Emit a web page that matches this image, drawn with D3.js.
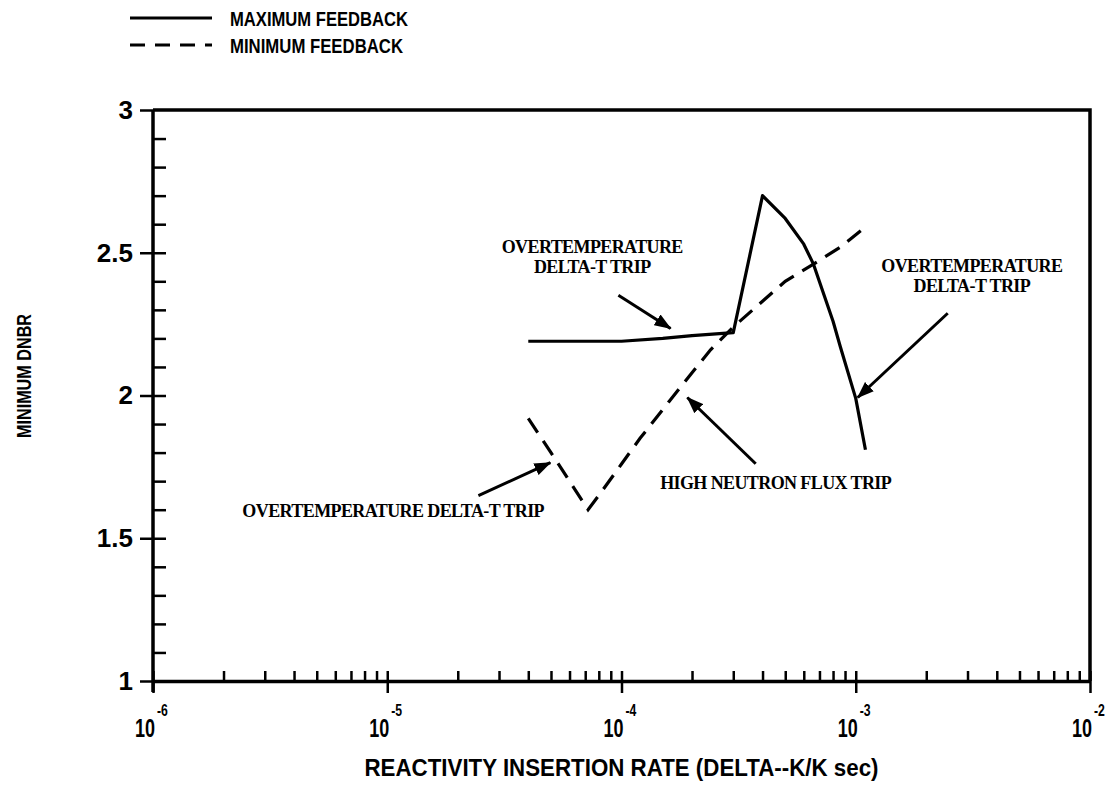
<!DOCTYPE html>
<html>
<head>
<meta charset="utf-8">
<script src="https://cdn.jsdelivr.net/npm/d3@7"></script>
<style>
  html, body { margin: 0; padding: 0; background: #fff; }
  svg { display: block; }
  .sans { font-family: "Liberation Sans", Arial, sans-serif; font-weight: bold; fill: #000; }
  .serif { font-family: "Liberation Serif", "Times New Roman", serif; font-weight: bold; fill: #000; }
</style>
</head>
<body>
<svg id="chart" width="1116" height="787"></svg>
<script>
// Reactivity insertion rate (delta-k/k per sec) and minimum DNBR, maximum feedback case
const maxFeedbackRate = [4e-5, 1e-4, 1.5e-4, 2e-4, 3e-4, 4e-4, 5e-4, 6e-4, 6.6e-4, 8e-4, 8.6e-4, 1e-3, 1.1e-3];
const maxFeedbackDnbr = [2.19, 2.19, 2.20, 2.21, 2.22, 2.70, 2.62, 2.53, 2.46, 2.26, 2.17, 1.99, 1.81];

// Minimum feedback case
const minFeedbackRate = [4e-5, 5e-5, 6e-5, 7.2e-5, 8e-5, 1e-4, 1.2e-4, 1.6e-4, 2e-4, 2.4e-4, 3e-4, 4e-4, 5e-4, 6.6e-4, 8.6e-4, 1.1e-3];
const minFeedbackDnbr = [1.92, 1.80, 1.70, 1.60, 1.65, 1.76, 1.85, 1.98, 2.08, 2.16, 2.24, 2.33, 2.40, 2.46, 2.52, 2.59];

// Axis ticks and labels
const xDecades = [1e-6, 1e-5, 1e-4, 1e-3, 1e-2];
const xDecadeExponents = ["-6", "-5", "-4", "-3", "-2"];
const yMajorTicks = [1, 1.5, 2, 2.5, 3];
const yMajorLabels = ["1", "1.5", "2", "2.5", "3"];

const legendLabels = ["MAXIMUM FEEDBACK", "MINIMUM FEEDBACK"];
const xTitle = "REACTIVITY INSERTION RATE (DELTA--K/K sec)";
const yTitle = "MINIMUM DNBR";

// Trip annotations: text lines anchored at a (rate, DNBR) point, arrow from tail to head
const annotLines = [
  ["OVERTEMPERATURE", "DELTA-T TRIP"],
  ["OVERTEMPERATURE", "DELTA-T TRIP"],
  ["HIGH NEUTRON FLUX TRIP"],
  ["OVERTEMPERATURE DELTA-T TRIP"]
];
const annotAt = [[7.5e-5, 2.498], [3.13e-3, 2.432], [4.55e-4, 1.674], [1.06e-5, 1.575]];
const arrowTail = [[9.7e-5, 2.351], [2.47e-3, 2.288], [3.74e-4, 1.761], [2.45e-5, 1.649]];
const arrowHead = [[1.62e-4, 2.235], [1.02e-3, 1.993], [1.91e-4, 1.993], [4.97e-5, 1.765]];

const svg = d3.select("#chart");
const plotLeft = 153, plotRight = 1090, plotTop = 110, plotBottom = 681;

const x = d3.scaleLog().domain([1e-6, 1e-2]).range([plotLeft, plotRight]);
const y = d3.scaleLinear().domain([1, 3]).range([plotBottom, plotTop]);

// Arrowhead marker
svg.append("defs").append("marker")
  .attr("id", "arrowhead")
  .attr("viewBox", "0 0 16 12")
  .attr("refX", 15).attr("refY", 6)
  .attr("markerUnits", "userSpaceOnUse")
  .attr("markerWidth", 17).attr("markerHeight", 13)
  .attr("orient", "auto")
  .append("path").attr("d", "M0,0 L16,6 L0,12 Z").attr("fill", "#000");

// Frame (top and right edges)
svg.append("path")
  .attr("d", `M${plotLeft},${plotTop} H${plotRight} V${plotBottom}`)
  .attr("fill", "none").attr("stroke", "#000").attr("stroke-width", 3.5);

// X axis: minor ticks inward, decade ticks crossing the axis
const xMinor = [];
for (let e = -6; e < -2; e++) for (let m = 2; m <= 9; m++) xMinor.push(m * Math.pow(10, e));

const gx = svg.append("g").attr("transform", `translate(0,${plotBottom})`);
gx.call(d3.axisBottom(x).tickValues(xMinor).tickSize(-10).tickSizeOuter(0).tickFormat(""));
gx.append("g").call(d3.axisBottom(x).tickValues(xDecades).tickSize(12).tickSizeOuter(0).tickFormat(""))
  .call(g => g.select(".domain").remove())
  .selectAll(".tick line").attr("y1", -10);
gx.selectAll(".domain").attr("stroke-width", 3.5).attr("stroke", "#000");
gx.selectAll(".tick line").attr("stroke-width", 2.5).attr("stroke", "#000");

// Decade labels: "10" with a raised exponent, horizontally condensed
const condense = 0.72;
xDecades.forEach((d, i) => {
  const g = svg.append("g")
    .attr("transform", `translate(${x(d)},0) scale(${condense},1)`);
  g.append("text").attr("class", "sans")
    .attr("x", 2 / condense).attr("y", 737)
    .attr("text-anchor", "end").attr("font-size", 25)
    .text("10");
  g.append("text").attr("class", "sans")
    .attr("x", 4 / condense).attr("y", 716)
    .attr("font-size", 17)
    .text(xDecadeExponents[i]);
});

// Y axis: minor ticks inward every 0.1, labelled ticks outward
const yMinor = d3.range(11, 30).map(v => v / 10);
const gy = svg.append("g").attr("transform", `translate(${plotLeft},0)`);
gy.call(d3.axisLeft(y).tickValues(yMinor).tickSize(-13).tickSizeOuter(0).tickFormat(""));
gy.append("g").call(d3.axisLeft(y).tickValues(yMajorTicks).tickSize(13).tickSizeOuter(0).tickPadding(7)
    .tickFormat((d, i) => yMajorLabels[i]))
  .call(g => g.select(".domain").remove())
  .selectAll("text").attr("class", "sans").attr("font-size", 26).attr("font-family", null);
gy.selectAll(".domain").attr("stroke-width", 3.5).attr("stroke", "#000")
  .attr("d", `M0,${plotTop}V${plotBottom + 11}`);
gy.selectAll(".tick line").attr("stroke-width", 2.5).attr("stroke", "#000");

// Curves
const line = d3.line().x(d => x(d[0])).y(d => y(d[1]));
svg.append("path")
  .datum(d3.zip(maxFeedbackRate, maxFeedbackDnbr))
  .attr("d", line)
  .attr("fill", "none").attr("stroke", "#000").attr("stroke-width", 3.2)
  .attr("stroke-linejoin", "round");
svg.append("path")
  .datum(d3.zip(minFeedbackRate, minFeedbackDnbr))
  .attr("d", line)
  .attr("fill", "none").attr("stroke", "#000").attr("stroke-width", 3.2)
  .attr("stroke-dasharray", "17,10");

// Annotations
annotLines.forEach((lines, i) => {
  const [ax, ay] = annotAt[i];
  lines.forEach((t, j) => {
    svg.append("text").attr("class", "serif")
      .attr("x", x(ax)).attr("y", y(ay) + j * 20)
      .attr("text-anchor", "middle").attr("font-size", 18)
      .attr("letter-spacing", -0.6)
      .text(t);
  });
  svg.append("line")
    .attr("x1", x(arrowTail[i][0])).attr("y1", y(arrowTail[i][1]))
    .attr("x2", x(arrowHead[i][0])).attr("y2", y(arrowHead[i][1]))
    .attr("stroke", "#000").attr("stroke-width", 3)
    .attr("marker-end", "url(#arrowhead)");
});

// Legend
const legendWidths = [178, 173];
legendLabels.forEach((t, i) => {
  const ly = 18 + i * 27;
  svg.append("line")
    .attr("x1", 130).attr("x2", 212).attr("y1", ly).attr("y2", ly)
    .attr("stroke", "#000").attr("stroke-width", 3)
    .attr("stroke-dasharray", i === 0 ? null : "15,10");
  svg.append("text").attr("class", "sans")
    .attr("x", 230).attr("y", ly + 8).attr("font-size", 21)
    .attr("textLength", legendWidths[i]).attr("lengthAdjust", "spacingAndGlyphs")
    .text(t);
});

// Axis titles
svg.append("text").attr("class", "sans")
  .attr("x", (plotLeft + plotRight) / 2).attr("y", 776)
  .attr("text-anchor", "middle").attr("font-size", 23)
  .attr("textLength", 514).attr("lengthAdjust", "spacingAndGlyphs")
  .text(xTitle);
svg.append("text").attr("class", "sans")
  .attr("transform", "translate(31,376) rotate(-90)")
  .attr("text-anchor", "middle").attr("font-size", 21)
  .attr("textLength", 124).attr("lengthAdjust", "spacingAndGlyphs")
  .text(yTitle);
</script>
</body>
</html>
